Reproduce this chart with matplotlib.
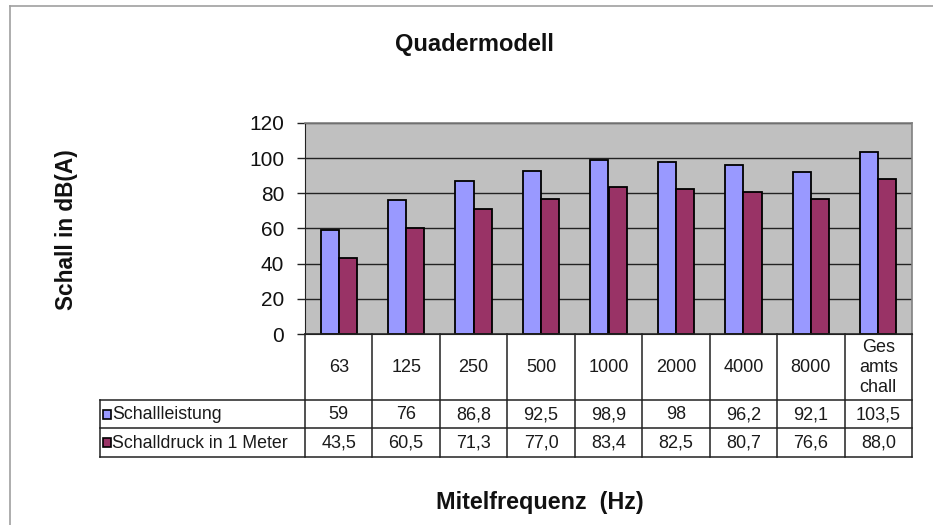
import matplotlib
matplotlib.use("Agg")
import matplotlib.pyplot as plt
from matplotlib.lines import Line2D
from matplotlib.patches import Rectangle

categories = ["63", "125", "250", "500", "1000", "2000", "4000", "8000", "Ges\namts\nchall"]
series_names = ["Schallleistung", "Schalldruck in 1 Meter"]
schallleistung = [59, 76, 86.8, 92.5, 98.9, 98, 96.2, 92.1, 103.5]
schalldruck = [43.5, 60.5, 71.3, 77.0, 83.4, 82.5, 80.7, 76.6, 88.0]
leistung_labels = ["59", "76", "86,8", "92,5", "98,9", "98", "96,2", "92,1", "103,5"]
druck_labels = ["43,5", "60,5", "71,3", "77,0", "83,4", "82,5", "80,7", "76,6", "88,0"]
yticks = [0, 20, 40, 60, 80, 100, 120]

plt.rcParams['font.family'] = ['Liberation Sans', 'DejaVu Sans']

W, H = 933, 525
fig = plt.figure(figsize=(W / 100, H / 100), dpi=100)
fig.patch.set_facecolor("white")

def fx(px):
    return px / W

def fy(py):
    return 1 - py / H

c_blue = "#9999FF"
c_red = "#993366"

# outer frame lines
fig.add_artist(Line2D([fx(10), 1], [fy(6), fy(6)], color="#A0A0A0", lw=1.2))
fig.add_artist(Line2D([fx(10), fx(10)], [fy(6), 0], color="#A0A0A0", lw=1.2))

ax_l, ax_r, ax_t, ax_b = 305, 912, 123, 334
ax = fig.add_axes([fx(ax_l), fy(ax_b), fx(ax_r - ax_l), (ax_b - ax_t) / H])
ax.set_facecolor("#C0C0C0")
n = len(categories)
x = list(range(n))
bw = 0.27
ax.bar([i - bw / 2 for i in x], schallleistung, width=bw, color=c_blue,
       edgecolor="black", linewidth=1.3, zorder=3)
ax.bar([i + bw / 2 for i in x], schalldruck, width=bw, color=c_red,
       edgecolor="black", linewidth=1.3, zorder=3)
ax.set_xlim(-0.5, n - 0.5)
ax.set_ylim(0, 120)
ax.set_yticks(yticks)
ax.set_yticklabels([str(v) for v in yticks], fontsize=15, color="#111111")
ax.set_xticks([])
ax.yaxis.grid(True, color="#222222", lw=1.0, zorder=1)
ax.tick_params(axis="y", length=6, width=1, color="#222222", pad=9)
for s in ["top", "right"]:
    ax.spines[s].set_color("#808080")
    ax.spines[s].set_linewidth(1.2)
ax.spines["left"].set_color("#222222")
ax.spines["bottom"].set_color("#222222")

# table axes sharing x scale
tb_t, tb_b = 334, 457
tax = fig.add_axes([fx(ax_l), fy(tb_b), fx(ax_r - ax_l), (tb_b - tb_t) / H])
tax.set_xlim(-0.5, n - 0.5)
tax.set_ylim(tb_b - tb_t, 0)
tax.axis("off")
r1, r2, r3 = 66, 94, 123
left_x = -0.5 - (ax_l - 100) / ((ax_r - ax_l) / n)
lc = "#222222"
lw = 1.1
for i in range(n + 1):
    tax.plot([i - 0.5, i - 0.5], [0, r3], color=lc, lw=lw, clip_on=False)
tax.plot([left_x, left_x], [r1, r3], color=lc, lw=lw, clip_on=False)
for yy in [r1, r2, r3]:
    tax.plot([left_x, n - 0.5], [yy, yy], color=lc, lw=lw, clip_on=False)
tax.plot([-0.5, n - 0.5], [0, 0], color=lc, lw=lw, clip_on=False)

tc = "#1a1a1a"
for i, c in enumerate(categories):
    tax.text(i, r1 / 2 + 0.5, c, ha="center", va="center", fontsize=13, color=tc,
             linespacing=1.2, clip_on=False)
    tax.text(i, (r1 + r2) / 2 + 0.5, leistung_labels[i], ha="center", va="center",
             fontsize=13, color=tc, clip_on=False)
    tax.text(i, (r2 + r3) / 2 + 0.5, druck_labels[i], ha="center", va="center",
             fontsize=13, color=tc, clip_on=False)

# legend keys
for (y0, y1), col, name in [((r1, r2), c_blue, series_names[0]), ((r2, r3), c_red, series_names[1])]:
    ym = (y0 + y1) / 2
    kx = left_x + 0.05
    ksz_x = 0.11
    tax.add_patch(Rectangle((kx, ym - 4.5), ksz_x, 9, facecolor=col, edgecolor="black",
                            lw=1.2, clip_on=False))
    tax.text(kx + ksz_x + 0.02, ym + 0.5, name, ha="left", va="center", fontsize=12.8,
             color=tc, clip_on=False)

fig.text(fx(474), fy(45), "Quadermodell", ha="center", va="center", fontsize=17,
         fontweight="bold", color="#111111")
fig.text(fx(540), fy(502), "Mitelfrequenz  (Hz)", ha="center", va="center", fontsize=16.8,
         fontweight="bold", color="#111111")
fig.text(fx(67), fy(230), "Schall in dB(A)", ha="center", va="center", fontsize=16.3,
         fontweight="bold", rotation=90, color="#111111")

fig.savefig("out.png", dpi=100)
